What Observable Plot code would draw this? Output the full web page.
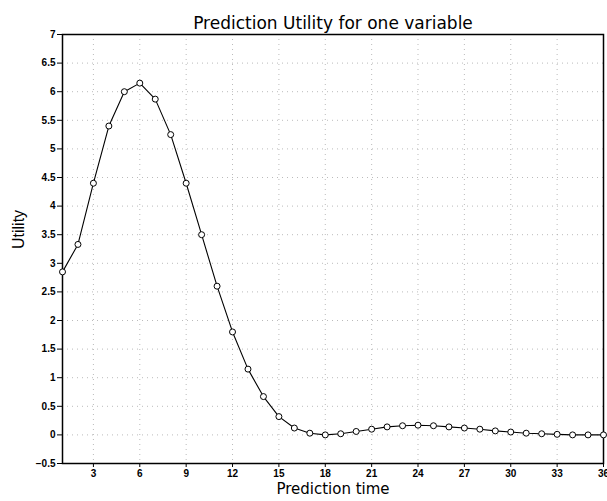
<!DOCTYPE html>
<html>
<head>
<meta charset="utf-8">
<script src="https://cdn.jsdelivr.net/npm/d3@7"></script>
<script src="https://cdn.jsdelivr.net/npm/@observablehq/plot@0.6"></script>
<style>
  body { margin: 0; background: #fff; }
  #chart svg { display: block; }
</style>
</head>
<body>
<div id="chart"></div>
<script>
const predictionTime = d3.range(1, 37);
const utility = [
  2.85, 3.33, 4.40, 5.40, 6.00, 6.15, 5.87, 5.25, 4.40, 3.50,
  2.60, 1.80, 1.15, 0.67, 0.32, 0.12, 0.03, 0.00, 0.02, 0.06,
  0.10, 0.14, 0.16, 0.17, 0.16, 0.14, 0.12, 0.10, 0.07, 0.05,
  0.03, 0.02, 0.01, 0.00, 0.00, 0.00
];
const xTicks = [3, 6, 9, 12, 15, 18, 21, 24, 27, 30, 33, 36];
const yTicks = d3.range(-0.5, 7.01, 0.5);
const titleText = "Prediction Utility for one variable";
const xLabel = "Prediction time";
const yLabel = "Utility";

const data = predictionTime.map((t, i) => ({t, u: utility[i]}));

const chart = Plot.plot({
  width: 607,
  height: 501,
  marginLeft: 62,
  marginRight: 4,
  marginTop: 34,
  marginBottom: 38,
  style: {fontFamily: "Liberation Sans, Arial, sans-serif", fontSize: "10px", background: "white"},
  x: {domain: [1, 36], ticks: xTicks, label: null},
  y: {domain: [-0.5, 7], ticks: yTicks, label: null},
  marks: [
    Plot.ruleY(yTicks.filter(v => v > -0.5 && v < 7), {stroke: "#aaa", strokeDasharray: "1,4", strokeWidth: 0.8}),
    Plot.ruleX(xTicks.filter(v => v < 36), {stroke: "#aaa", strokeDasharray: "1,4", strokeWidth: 0.8}),
    Plot.axisY({ticks: yTicks, tickSize: 5, tickPadding: 2, fontWeight: "bold", label: null, tickFormat: d => d3.format("")(d).replace("-", "\u2212")}),
    Plot.axisX({ticks: xTicks, tickSize: 4, tickPadding: 2, fontWeight: "bold", label: null}),
    Plot.frame({stroke: "black", strokeWidth: 1.5}),
    Plot.line(data, {x: "t", y: "u", stroke: "black", strokeWidth: 1.1}),
    Plot.dot(data, {x: "t", y: "u", r: 3, fill: "white", stroke: "black", strokeWidth: 1}),
    Plot.text([titleText], {frameAnchor: "top", dy: -18, fontSize: 17, fontFamily: "DejaVu Sans", fill: "black", letterSpacing: "0.5px", wordSpacing: "3px"}),
    Plot.text([xLabel], {frameAnchor: "bottom", dy: 30, fontSize: 15, fontFamily: "DejaVu Sans", fill: "black", letterSpacing: "0.5px", wordSpacing: "3px"}),
    Plot.text([yLabel], {frameAnchor: "left", dx: -44, rotate: -90, fontSize: 16, fontFamily: "Liberation Sans", fill: "black"})
  ]
});
document.getElementById("chart").appendChild(chart);
</script>
</body>
</html>
